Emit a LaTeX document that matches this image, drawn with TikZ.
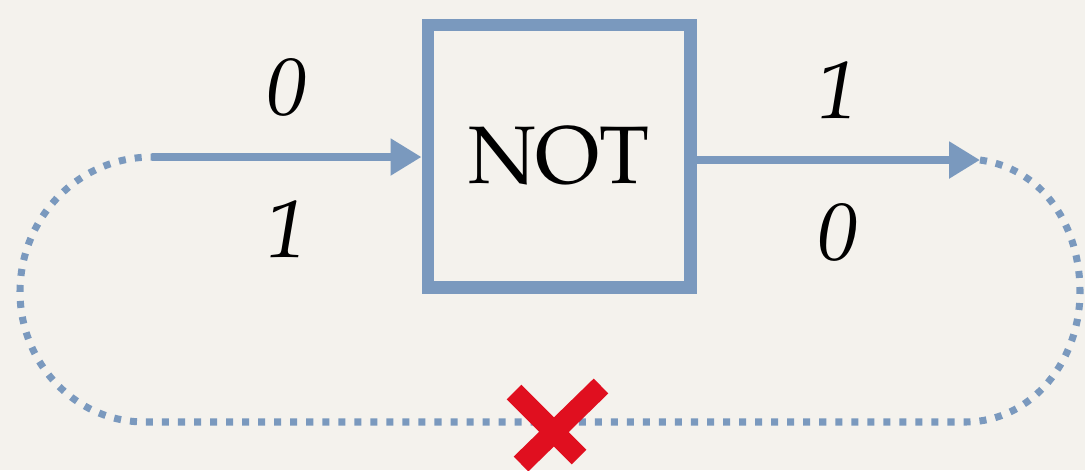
\documentclass[tikz,border=0pt]{standalone}
\usepackage[T1]{fontenc}
\usepackage{mathpazo}
\usetikzlibrary{arrows.meta,positioning,calc}
\definecolor{wireblue}{HTML}{7A99BE}
\definecolor{crossred}{HTML}{E00F1F}
\definecolor{paper}{HTML}{F4F2ED}
\tikzset{gate/.style={draw=wireblue, line width=9.2pt, minimum size=6.55cm, inner sep=0pt, font=\fontsize{58}{58}\selectfont},
wire/.style={-{Triangle[length=22pt, width=25pt]}, draw=wireblue, line width=5.6pt},
loopwire/.style={draw=wireblue, line width=5pt, dash pattern=on 5pt off 6.4pt},
bit/.style={inner sep=0pt, font=\fontsize{58}{58}\selectfont\itshape}}

\begin{document}
\begin{tikzpicture}[x=0.025cm, y=-0.025cm]
\fill[paper] (0,0) rectangle (1085,470);
\useasboundingbox (0,0) rectangle (1085,470);
\clip (0,0) rectangle (1085,470);
\node[gate] (not) at (559,156) {NOT};
\coordinate (in) at (152,157);
\coordinate (out) at (980,160);
\draw[wire] (in) -- (in -| not.west) node[midway, bit, above=0.92cm] {0} node[midway, bit, below=1cm] {1};
\draw[wire] (out -| not.east) -- (out) node[midway, bit, above=0.92cm] {1} node[midway, bit, below=1cm] {0};
% feedback loop
\draw[loopwire] (out) to[out=-8, in=90] (1080,292) to[out=-90, in=0] (965,422) -- (145,422)
  to[out=180, in=-90] (20,292) to[out=90, in=180] (in);
\coordinate (cut) at (553,432);
\draw[crossred, line width=14.8pt] ($(cut)+(-39,-40)$) -- ($(cut)+(26,25)$) ($(cut)+(48,-46)$) -- ($(cut)+(-32,32)$);
\end{tikzpicture}
\end{document}
